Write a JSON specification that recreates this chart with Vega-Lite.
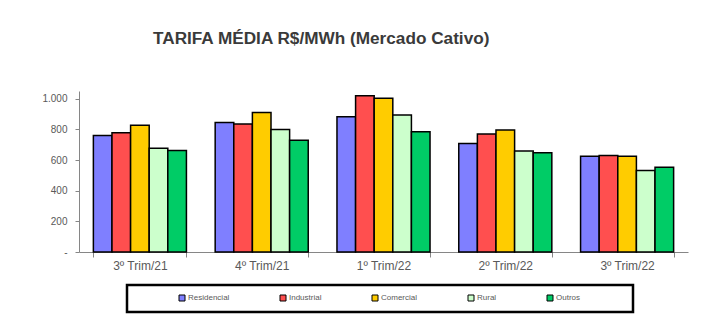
{
  "$schema": "https://vega.github.io/schema/vega-lite/v6.json",
  "width": 609,
  "height": 161,
  "autosize": {"type": "none"},
  "padding": {"left": 79, "top": 91, "right": 16, "bottom": 64},
  "background": "white",
  "title": {
    "text": "TARIFA MÉDIA  R$/MWh (Mercado Cativo)",
    "anchor": "start",
    "frame": "group",
    "dx": 74,
    "offset": 44,
    "font": "Liberation Sans",
    "fontSize": 17.2,
    "fontWeight": "bold",
    "color": "#3a3a3a"
  },
  "config": {
    "view": {"stroke": null},
    "font": "Liberation Sans"
  },
  "data": {
    "values": [
      {"trim": "3º Trim/21", "classe": "Residencial", "valor": 760},
      {"trim": "3º Trim/21", "classe": "Industrial", "valor": 778},
      {"trim": "3º Trim/21", "classe": "Comercial", "valor": 827},
      {"trim": "3º Trim/21", "classe": "Rural", "valor": 677},
      {"trim": "3º Trim/21", "classe": "Outros", "valor": 662},
      {"trim": "4º Trim/21", "classe": "Residencial", "valor": 845},
      {"trim": "4º Trim/21", "classe": "Industrial", "valor": 834},
      {"trim": "4º Trim/21", "classe": "Comercial", "valor": 910},
      {"trim": "4º Trim/21", "classe": "Rural", "valor": 799},
      {"trim": "4º Trim/21", "classe": "Outros", "valor": 729},
      {"trim": "1º Trim/22", "classe": "Residencial", "valor": 882},
      {"trim": "1º Trim/22", "classe": "Industrial", "valor": 1019},
      {"trim": "1º Trim/22", "classe": "Comercial", "valor": 1002},
      {"trim": "1º Trim/22", "classe": "Rural", "valor": 893},
      {"trim": "1º Trim/22", "classe": "Outros", "valor": 784},
      {"trim": "2º Trim/22", "classe": "Residencial", "valor": 708},
      {"trim": "2º Trim/22", "classe": "Industrial", "valor": 769},
      {"trim": "2º Trim/22", "classe": "Comercial", "valor": 795},
      {"trim": "2º Trim/22", "classe": "Rural", "valor": 658},
      {"trim": "2º Trim/22", "classe": "Outros", "valor": 647},
      {"trim": "3º Trim/22", "classe": "Residencial", "valor": 625},
      {"trim": "3º Trim/22", "classe": "Industrial", "valor": 629},
      {"trim": "3º Trim/22", "classe": "Comercial", "valor": 625},
      {"trim": "3º Trim/22", "classe": "Rural", "valor": 531},
      {"trim": "3º Trim/22", "classe": "Outros", "valor": 553}
    ]
  },
  "mark": {"type": "bar", "stroke": "black", "strokeWidth": 1.5},
  "encoding": {
    "x": {
      "field": "trim",
      "type": "nominal",
      "sort": ["3º Trim/21", "4º Trim/21", "1º Trim/22", "2º Trim/22", "3º Trim/22"],
      "scale": {"paddingInner": 0.236, "paddingOuter": 0.118},
      "axis": {
        "title": null,
        "labelAngle": 0,
        "tickBand": "extent",
        "domainColor": "#868686",
        "tickColor": "#868686",
        "tickSize": 5,
        "labelColor": "#595959",
        "labelFontSize": 12,
        "labelPadding": 3,
        "labelFont": "Liberation Sans"
      }
    },
    "xOffset": {
      "field": "classe",
      "type": "nominal",
      "sort": ["Residencial", "Industrial", "Comercial", "Rural", "Outros"],
      "scale": {"paddingInner": 0, "paddingOuter": 0}
    },
    "y": {
      "field": "valor",
      "type": "quantitative",
      "scale": {"domain": [0, 1050], "nice": false},
      "axis": {
        "title": null,
        "grid": false,
        "values": [0, 200, 400, 600, 800, 1000],
        "labelExpr": "datum.value == 0 ? '-' : replace(format(datum.value, ','), ',', '.')",
        "domainColor": "#868686",
        "tickColor": "#868686",
        "tickSize": 4,
        "labelPadding": 8,
        "labelColor": "#595959",
        "labelFontSize": 10,
        "labelFont": "Liberation Sans"
      }
    },
    "color": {
      "field": "classe",
      "type": "nominal",
      "scale": {
        "domain": ["Residencial", "Industrial", "Comercial", "Rural", "Outros"],
        "range": ["#7F7FFF", "#FF4F4F", "#FFCC00", "#CCFFCC", "#00CC66"]
      },
      "legend": {
        "orient": "none",
        "legendX": 48,
        "legendY": 194,
        "direction": "horizontal",
        "columns": 5,
        "title": "\u00a0",
        "titleOrient": "right",
        "titlePadding": 44,
        "titleFontSize": 8,
        "symbolType": "square",
        "symbolSize": 36,
        "symbolStrokeColor": "black",
        "symbolStrokeWidth": 1,
        "symbolOffset": 42,
        "labelOffset": 2,
        "columnPadding": 7,
        "labelFontSize": 8,
        "labelColor": "#595959",
        "labelFont": "Liberation Sans",
        "padding": 9,
        "strokeColor": "black",
        "encode": {"legend": {"update": {"strokeWidth": {"value": 2.5}}}}
      }
    }
  }
}
